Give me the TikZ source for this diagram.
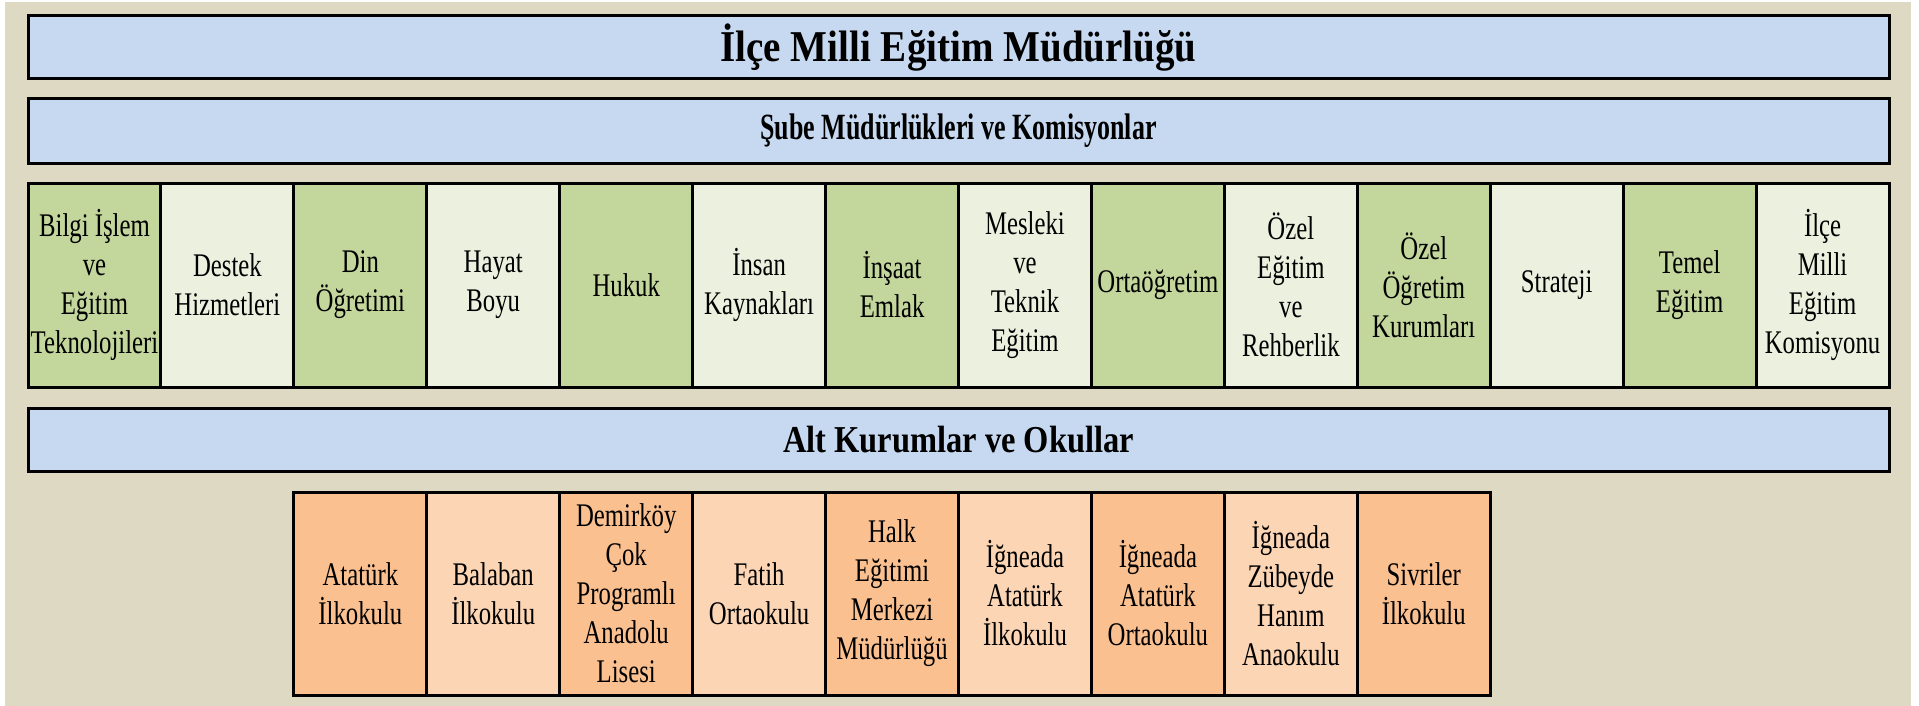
\documentclass[tikz,border=0pt]{standalone}
\usepackage{fontspec}
\usepackage{graphicx}
\setmainfont{Liberation Serif}
\newfontfamily\cellfont[FakeStretch=0.75]{Liberation Serif}
\definecolor{bgbeige}{HTML}{DDD9C3}
\definecolor{bannerblue}{HTML}{C6D9F1}
\definecolor{gdark}{HTML}{C3D69B}
\definecolor{glight}{HTML}{EBF1DE}
\definecolor{odark}{HTML}{FAC090}
\definecolor{olight}{HTML}{FCD5B5}
\newcommand{\cw}{132.93}
\tikzset{
  banner/.style={draw=black, line width=3pt, fill=bannerblue, inner sep=0pt,
    minimum width=1861pt, text=black},
  cellbox/.style={draw=black, line width=3pt, inner sep=0pt, align=center,
    minimum width=\cw pt, font=\cellfont\fontsize{33}{39}\selectfont, text=black},
  gcell/.style={cellbox, minimum height=204pt},
  ocell/.style={cellbox, minimum height=203pt},
}
\begin{document}
\begin{tikzpicture}[x=1pt,y=-1pt]
\useasboundingbox (0,0) rectangle (1919,706);
\fill[bgbeige] (5,2) rectangle (1911,706);
% banners
\node[banner, minimum height=63pt] (b1) at (958.5,47.5)
  {\resizebox{476pt}{\height}{\bfseries\fontsize{44}{44}\selectfont İlçe Milli Eğitim Müdürlüğü}};
\node[banner, minimum height=64pt] (b2) at (958.5,131)
  {\resizebox{396pt}{\height}{\bfseries\fontsize{37}{37}\selectfont Şube Müdürlükleri ve Komisyonlar}};
\node[banner, minimum height=63pt] (b3) at (958.5,439.5)
  {\resizebox{351pt}{\height}{\bfseries\fontsize{38}{38}\selectfont Alt Kurumlar ve Okullar}};
% green row
\node[gcell, fill=gdark]  (g1)  at ({28+\cw*0.5},285)  {Bilgi İşlem\\ve\\Eğitim\\Teknolojileri};
\node[gcell, fill=glight] (g2)  at ({28+\cw*1.5},285)  {Destek\\Hizmetleri};
\node[gcell, fill=gdark]  (g3)  at ({28+\cw*2.5},285)  {Din\\Öğretimi};
\node[gcell, fill=glight] (g4)  at ({28+\cw*3.5},285)  {Hayat\\Boyu};
\node[gcell, fill=gdark]  (g5)  at ({28+\cw*4.5},285)  {Hukuk};
\node[gcell, fill=glight] (g6)  at ({28+\cw*5.5},285)  {İnsan\\Kaynakları};
\node[gcell, fill=gdark]  (g7)  at ({28+\cw*6.5},285)  {İnşaat\\Emlak};
\node[gcell, fill=glight] (g8)  at ({28+\cw*7.5},285)  {Mesleki\\ve\\Teknik\\Eğitim};
\node[gcell, fill=gdark]  (g9)  at ({28+\cw*8.5},285)  {Ortaöğretim};
\node[gcell, fill=glight] (g10) at ({28+\cw*9.5},285)  {Özel\\Eğitim\\ve\\Rehberlik};
\node[gcell, fill=gdark]  (g11) at ({28+\cw*10.5},285) {Özel\\Öğretim\\Kurumları};
\node[gcell, fill=glight] (g12) at ({28+\cw*11.5},285) {Strateji};
\node[gcell, fill=gdark]  (g13) at ({28+\cw*12.5},285) {Temel\\Eğitim};
\node[gcell, fill=glight] (g14) at ({28+\cw*13.5},285) {İlçe\\Milli\\Eğitim\\Komisyonu};
% orange row
\node[ocell, fill=odark]  (o1) at ({28+\cw*2.5},593.5)  {Atatürk\\İlkokulu};
\node[ocell, fill=olight] (o2) at ({28+\cw*3.5},593.5)  {Balaban\\İlkokulu};
\node[ocell, fill=odark]  (o3) at ({28+\cw*4.5},593.5)  {Demirköy\\Çok\\Programlı\\Anadolu\\Lisesi};
\node[ocell, fill=olight] (o4) at ({28+\cw*5.5},593.5)  {Fatih\\Ortaokulu};
\node[ocell, fill=odark]  (o5) at ({28+\cw*6.5},593.5)  {Halk\\Eğitimi\\Merkezi\\Müdürlüğü};
\node[ocell, fill=olight] (o6) at ({28+\cw*7.5},593.5)  {İğneada\\Atatürk\\İlkokulu};
\node[ocell, fill=odark]  (o7) at ({28+\cw*8.5},593.5)  {İğneada\\Atatürk\\Ortaokulu};
\node[ocell, fill=olight] (o8) at ({28+\cw*9.5},593.5)  {İğneada\\Zübeyde\\Hanım\\Anaokulu};
\node[ocell, fill=odark]  (o9) at ({28+\cw*10.5},593.5) {Sivriler\\İlkokulu};
\end{tikzpicture}
\end{document}
